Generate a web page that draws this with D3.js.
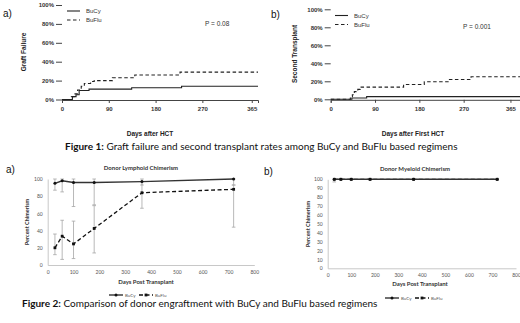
<!DOCTYPE html>
<html>
<head>
<meta charset="utf-8">
<script src="https://cdn.jsdelivr.net/npm/d3@7"></script>
<style>
  body { margin: 0; background: #fff; }
  svg { display: block; }
</style>
</head>
<body>
<div id="chart"></div>
<script>
// Figure 1 - cumulative incidence (step curves)
const graftBuCyDays = [0, 20, 27, 33, 52, 134, 230, 377];
const graftBuCyPct  = [0, 3, 5, 9.5, 11, 12.5, 14, 14];
const graftBuFluDays = [0, 18, 25, 30, 37, 43, 55, 62, 97, 140, 227, 377];
const graftBuFluPct  = [0, 3, 6, 10, 14, 17, 19, 20, 23, 26, 29, 29];

const secondBuCyDays = [0, 43, 73, 385];
const secondBuCyPct  = [0, 1.5, 3, 3];
const secondBuFluDays = [0, 40, 44, 48, 55, 60, 148, 190, 240, 285, 385];
const secondBuFluPct  = [0, 3, 5, 8.5, 11, 13.5, 16.5, 19.5, 22, 25, 25];

const kmTicks = [0, 90, 180, 270, 365];
const pctTicks = [0, 0.2, 0.4, 0.6, 0.8, 1];

// Figure 2 - chimerism
const chimDays = [28, 56, 100, 180, 365, 720];
const lymphBuCy   = [95, 98, 96, 96, 97, 100];
const lymphBuCyLo = [87, 85, 68, 70, 93, 93];
const lymphBuCyHi = [100, 100, 100, 100, 100, 100];
const lymphBuFlu   = [20, 33.5, 24.5, 42.5, 84, 88];
const lymphBuFluLo = [12, 6.5, 7.5, 14, 66, 44];
const lymphBuFluHi = [36, 52, 51, 69, 97, 93];

const myeBuCy   = [100, 100, 100, 100, 100, 100];
const myeBuCyLo = [97, 100, 100, 100, 100, 100];
const myeBuCyHi = [100, 100, 100, 100, 100, 100];
const myeBuFlu  = [100, 100, 100, 100, 100, 100];

const dayTicks = [0, 100, 200, 300, 400, 500, 600, 700, 800];

const W = 520, H = 323;
const svg = d3.select("#chart").append("svg")
    .attr("width", W).attr("height", H);
svg.append("rect").attr("width", W).attr("height", H).attr("fill", "#fff");

const arial = "'Liberation Sans', Arial, sans-serif";
const calibri = "Lato, 'Open Sans', sans-serif";

function kmPanel(o) {
    let g = svg.append("g");
    let x = d3.scaleLinear().domain([0, o.xmax]).range(o.xr);
    let y = d3.scaleLinear().domain([0, 1]).range(o.yr);

    let xa = g.append("g")
        .attr("transform", "translate(0," + (o.yr[0] + 0.5) + ")")
        .call(d3.axisBottom(x).tickValues(kmTicks).tickSizeOuter(0).tickSize(3).tickPadding(4));
    xa.select(".domain").attr("stroke", "#444");
    xa.selectAll(".tick line").attr("stroke", "#444");
    xa.selectAll("text").attr("font-family", arial).attr("font-size", 6).attr("font-weight", "bold").attr("fill", "#333");

    let ya = g.append("g")
        .attr("transform", "translate(" + o.xr[0] + ",0)")
        .call(d3.axisLeft(y).tickValues(pctTicks).tickFormat(d3.format(".0%")).tickSize(6).tickPadding(2));
    ya.select(".domain").remove();
    ya.selectAll(".tick line").attr("stroke", "#444");
    ya.selectAll("text").attr("font-family", arial).attr("font-size", 6).attr("font-weight", "bold").attr("fill", "#333");

    let line = d3.line().curve(d3.curveStepAfter)
        .x(d => x(d[0])).y(d => y(d[1] / 100));

    g.append("path").datum(d3.zip(o.cyDays, o.cyPct))
        .attr("d", line).attr("fill", "none").attr("stroke", "#222").attr("stroke-width", 1.1);
    g.append("path").datum(d3.zip(o.fluDays, o.fluPct))
        .attr("d", line).attr("fill", "none").attr("stroke", "#222").attr("stroke-width", 1.1)
        .attr("stroke-dasharray", "3.5,2.5");

    // legend
    let lg = g.append("g").attr("font-family", arial).attr("font-size", 6).attr("fill", "#333");
    lg.append("line").attr("x1", o.leg[0]).attr("x2", o.leg[0] + 13)
        .attr("y1", o.leg[1]).attr("y2", o.leg[1]).attr("stroke", "#222").attr("stroke-width", 1.1);
    lg.append("line").attr("x1", o.leg[0]).attr("x2", o.leg[0] + 13)
        .attr("y1", o.leg[1] + 9).attr("y2", o.leg[1] + 9).attr("stroke", "#222").attr("stroke-width", 1.1)
        .attr("stroke-dasharray", "3.5,2.5");
    lg.append("text").attr("x", o.leg[0] + 19).attr("y", o.leg[1] + 2).text("BuCy");
    lg.append("text").attr("x", o.leg[0] + 19).attr("y", o.leg[1] + 11).text("BuFlu");

    g.append("text").attr("x", o.p[0]).attr("y", o.p[1])
        .attr("font-family", arial).attr("font-size", 6.5).attr("fill", "#333").text(o.pText);

    g.append("text").attr("transform", "translate(" + o.ylab[0] + "," + o.ylab[1] + ") rotate(-90)")
        .attr("text-anchor", "middle").attr("font-family", arial).attr("font-size", 6.5)
        .attr("font-weight", "bold").attr("fill", "#222").text(o.yTitle);
    g.append("text").attr("x", o.xlab[0]).attr("y", o.xlab[1])
        .attr("text-anchor", "middle").attr("font-family", arial).attr("font-size", 6.5)
        .attr("font-weight", "bold").attr("fill", "#222").text(o.xTitle);

    g.append("text").attr("x", o.tag[0]).attr("y", o.tag[1])
        .attr("font-family", arial).attr("font-size", 10).attr("fill", "#111").text(o.tagText);
}

kmPanel({
    xmax: 377, xr: [62, 258], yr: [99.5, 5],
    cyDays: graftBuCyDays, cyPct: graftBuCyPct,
    fluDays: graftBuFluDays, fluPct: graftBuFluPct,
    leg: [67, 11], p: [205, 25.5], pText: "P =  0.08",
    ylab: [26, 52], yTitle: "Graft Failure",
    xlab: [150, 136], xTitle: "Days after HCT",
    tag: [3, 17], tagText: "a)"
});

kmPanel({
    xmax: 385, xr: [330.7, 520.3], yr: [99.3, 9.3],
    cyDays: secondBuCyDays, cyPct: secondBuCyPct,
    fluDays: secondBuFluDays, fluPct: secondBuFluPct,
    leg: [335, 15.5], p: [463, 29], pText: "P =  0.001",
    ylab: [297, 54], yTitle: "Second Transplant",
    xlab: [413, 136], xTitle: "Days after First HCT",
    tag: [271, 18], tagText: "b)"
});

function caption(yPos, xPos, bold, rest) {
    let t = svg.append("text").attr("x", xPos).attr("y", yPos)
        .attr("font-family", calibri).attr("font-size", 10).attr("fill", "#111");
    t.append("tspan").attr("font-weight", "bold").text(bold);
    t.append("tspan").text(rest);
}
caption(150, 65, "Figure 1:", " Graft failure and second transplant rates among BuCy and BuFlu based regimens");
caption(307, 22, "Figure 2:", " Comparison of donor engraftment with BuCy and BuFlu based regimens");

function chimPanel(o) {
    let g = svg.append("g");
    let x = d3.scaleLinear().domain([0, 800]).range(o.xr);
    let y = d3.scaleLinear().domain([0, 100]).range(o.yr);

    let xa = g.append("g").attr("transform", "translate(0," + o.yr[0] + ")")
        .call(d3.axisBottom(x).tickValues(dayTicks).tickSize(0).tickPadding(5));
    xa.select(".domain").attr("stroke", "#c8c8c8");
    xa.selectAll("text").attr("font-family", calibri).attr("font-size", 5).attr("fill", "#555");

    let ya = g.append("g").attr("transform", "translate(" + o.xr[0] + ",0)")
        .call(d3.axisLeft(y).tickValues(o.yTicks).tickSize(0).tickPadding(5));
    ya.select(".domain").attr("stroke", "#c8c8c8");
    ya.selectAll("text").attr("font-family", calibri).attr("font-size", 5).attr("fill", "#555");

    let line = d3.line().x(d => x(d[0])).y(d => y(d[1]));

    function errs(vLo, vHi) {
        let eg = g.append("g").attr("stroke", "#a6a6a6").attr("stroke-width", 0.8);
        chimDays.forEach((d, i) => {
            if (vLo[i] === vHi[i]) return;
            eg.append("line").attr("x1", x(d)).attr("x2", x(d)).attr("y1", y(vLo[i])).attr("y2", y(vHi[i]));
            eg.append("line").attr("x1", x(d) - 1.8).attr("x2", x(d) + 1.8).attr("y1", y(vLo[i])).attr("y2", y(vLo[i]));
            eg.append("line").attr("x1", x(d) - 1.8).attr("x2", x(d) + 1.8).attr("y1", y(vHi[i])).attr("y2", y(vHi[i]));
        });
    }
    if (o.fluLo) errs(o.fluLo, o.fluHi);
    errs(o.cyLo, o.cyHi);

    g.append("path").datum(d3.zip(chimDays, o.flu)).attr("d", line)
        .attr("fill", "none").attr("stroke", "#111").attr("stroke-width", 1.3).attr("stroke-dasharray", "4,2.5");
    g.selectAll(".sq").data(d3.zip(chimDays, o.flu)).join("rect")
        .attr("x", d => x(d[0]) - 1.4).attr("y", d => y(d[1]) - 1.4)
        .attr("width", 2.8).attr("height", 2.8).attr("fill", "#111");

    g.append("path").datum(d3.zip(chimDays, o.cy)).attr("d", line)
        .attr("fill", "none").attr("stroke", "#333").attr("stroke-width", 1.4);
    g.selectAll(".dot").data(d3.zip(chimDays, o.cy)).join("circle")
        .attr("cx", d => x(d[0])).attr("cy", d => y(d[1])).attr("r", 1.5).attr("fill", "#111");

    g.append("text").attr("x", o.title[0]).attr("y", o.title[1]).attr("text-anchor", "middle")
        .attr("font-family", calibri).attr("font-size", 6).attr("font-weight", "bold").attr("fill", "#333").text(o.titleText);
    g.append("text").attr("transform", "translate(" + o.ylab[0] + "," + o.ylab[1] + ") rotate(-90)")
        .attr("text-anchor", "middle").attr("font-family", calibri).attr("font-size", 5.5)
        .attr("font-weight", "bold").attr("fill", "#333").text("Percent Chimerism");
    g.append("text").attr("x", o.xlab[0]).attr("y", o.xlab[1]).attr("text-anchor", "middle")
        .attr("font-family", calibri).attr("font-size", 6).attr("font-weight", "bold").attr("fill", "#333").text("Days Post Transplant");

    // legend
    let lx = o.leg[0], ly = o.leg[1];
    let lg = g.append("g").attr("font-family", calibri).attr("font-size", 4.5).attr("fill", "#555");
    lg.append("line").attr("x1", lx).attr("x2", lx + 14).attr("y1", ly).attr("y2", ly)
        .attr("stroke", "#333").attr("stroke-width", 1.4);
    lg.append("circle").attr("cx", lx + 7).attr("cy", ly).attr("r", 1.5).attr("fill", "#111");
    lg.append("text").attr("x", lx + 16).attr("y", ly + 1.6).text("BuCy");
    lg.append("line").attr("x1", lx + 30).attr("x2", lx + 44).attr("y1", ly).attr("y2", ly)
        .attr("stroke", "#111").attr("stroke-width", 1.3).attr("stroke-dasharray", "4,2.5");
    lg.append("rect").attr("x", lx + 37 - 1.4).attr("y", ly - 1.4).attr("width", 2.8).attr("height", 2.8).attr("fill", "#111");
    lg.append("text").attr("x", lx + 46).attr("y", ly + 1.6).text("BuFlu");

    g.append("text").attr("x", o.tag[0]).attr("y", o.tag[1])
        .attr("font-family", arial).attr("font-size", 10).attr("fill", "#111").text(o.tagText);
}

chimPanel({
    xr: [47.7, 254.3], yr: [265, 179], yTicks: [0, 20, 40, 60, 80, 100],
    cy: lymphBuCy, cyLo: lymphBuCyLo, cyHi: lymphBuCyHi,
    flu: lymphBuFlu, fluLo: lymphBuFluLo, fluHi: lymphBuFluHi,
    title: [141, 170], titleText: "Donor Lymphoid Chimerism",
    ylab: [29, 222], xlab: [146, 284],
    leg: [109, 295], tag: [6, 173], tagText: "a)"
});

chimPanel({
    xr: [327.7, 516], yr: [268.3, 179.3], yTicks: d3.range(0, 101, 10),
    cy: myeBuCy, cyLo: myeBuCyLo, cyHi: myeBuCyHi,
    flu: myeBuFlu,
    title: [415, 171], titleText: "Donor Myeloid Chimerism",
    ylab: [310, 224], xlab: [420, 286],
    leg: [385, 298], tag: [264, 175], tagText: "b)"
});
</script>
</body>
</html>
